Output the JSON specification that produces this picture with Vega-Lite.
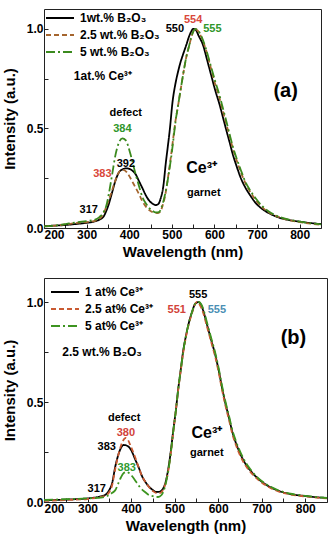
{
"$schema": "https://vega.github.io/schema/vega-lite/v6.json",
"padding": {"left": 1, "top": 8, "right": 5, "bottom": 5},
"background": "white",
"config": {
 "view": {"stroke": "#222", "strokeWidth": 1},
 "font": "Liberation Sans",
 "axis": {"grid": false, "domain": false, "labelFont": "Liberation Sans", "labelFontWeight": "bold", "labelFontSize": 12, "labelColor": "#000", "titleFont": "Liberation Sans", "titleFontWeight": "bold", "titleFontSize": 15, "titleColor": "#000", "tickColor": "#222", "tickSize": -4},
 "legend": {"title": null, "orient": "top-left", "padding": 0, "symbolType": "M-1,0H3", "symbolSize": 196, "symbolStrokeWidth": 2, "labelFont": "Liberation Sans", "labelFontWeight": "bold", "labelFontSize": 12, "labelColor": "#000", "rowPadding": 3, "labelOffset": 19}
},
"datasets": {
 "annA": [
  {"wl": 507, "int": 1.0, "label": "550", "series": "1wt.% B₂O₃", "role": "peak"},
  {"wl": 550, "int": 1.044, "label": "554", "series": "2.5 wt.% B₂O₃", "role": "peak"},
  {"wl": 595, "int": 1.0, "label": "555", "series": "5 wt.% B₂O₃", "role": "peak"},
  {"wl": 384, "int": 0.496, "label": "384", "series": "5 wt.% B₂O₃", "role": "peak"},
  {"wl": 392, "int": 0.32, "label": "392", "series": "1wt.% B₂O₃", "role": "peak"},
  {"wl": 337, "int": 0.27, "label": "383", "series": "2.5 wt.% B₂O₃", "role": "peak"},
  {"wl": 305, "int": 0.09, "label": "317", "series": "1wt.% B₂O₃", "role": "peak"},
  {"wl": 392, "int": 0.58, "label": "defect", "role": "note"},
  {"wl": 575, "int": 0.177, "label": "garnet", "role": "note"},
  {"wl": 570, "int": 0.303, "label": "Ce³⁺", "role": "ion"},
  {"wl": 767, "int": 0.69, "label": "(a)", "role": "tag"},
  {"wl": 270, "int": 0.764, "label": "1at.% Ce³⁺", "role": "comp"}
 ],
 "annB": [
  {"wl": 554, "int": 1.035, "label": "555", "series": "1 at% Ce³⁺", "role": "peak", "feature": "garnet"},
  {"wl": 505, "int": 0.96, "label": "551", "series": "2.5 at% Ce³⁺", "role": "peak", "feature": "garnet"},
  {"wl": 597, "int": 0.96, "label": "555", "series": "5 at% Ce³⁺", "role": "peak", "feature": "garnet"},
  {"wl": 388, "int": 0.345, "label": "380", "series": "2.5 at% Ce³⁺", "role": "peak", "feature": "defect"},
  {"wl": 344, "int": 0.275, "label": "383", "series": "1 at% Ce³⁺", "role": "peak", "feature": "defect"},
  {"wl": 390, "int": 0.17, "label": "383", "series": "5 at% Ce³⁺", "role": "peak", "feature": "defect"},
  {"wl": 321, "int": 0.065, "label": "317", "series": "1 at% Ce³⁺", "role": "peak", "feature": "defect"},
  {"wl": 384, "int": 0.42, "label": "defect", "role": "note"},
  {"wl": 574, "int": 0.245, "label": "garnet", "role": "note"},
  {"wl": 574, "int": 0.345, "label": "Ce³⁺", "role": "ion"},
  {"wl": 773, "int": 0.82, "label": "(b)", "role": "tag"},
  {"wl": 242, "int": 0.75, "label": "2.5 wt.% B₂O₃", "role": "comp"}
 ],
 "specA": [
  {"series":"1wt.% B₂O₃","wl":200,"int":0.010},{"series":"1wt.% B₂O₃","wl":225,"int":0.012},{"series":"1wt.% B₂O₃","wl":250,"int":0.015},{"series":"1wt.% B₂O₃","wl":275,"int":0.02},{"series":"1wt.% B₂O₃","wl":300,"int":0.026},{"series":"1wt.% B₂O₃","wl":317,"int":0.032},{"series":"1wt.% B₂O₃","wl":330,"int":0.042},{"series":"1wt.% B₂O₃","wl":340,"int":0.058},{"series":"1wt.% B₂O₃","wl":345,"int":0.08},{"series":"1wt.% B₂O₃","wl":352,"int":0.12},{"series":"1wt.% B₂O₃","wl":360,"int":0.18},{"series":"1wt.% B₂O₃","wl":368,"int":0.24},{"series":"1wt.% B₂O₃","wl":376,"int":0.28},{"series":"1wt.% B₂O₃","wl":385,"int":0.295},{"series":"1wt.% B₂O₃","wl":392,"int":0.30},{"series":"1wt.% B₂O₃","wl":400,"int":0.297},{"series":"1wt.% B₂O₃","wl":408,"int":0.287},{"series":"1wt.% B₂O₃","wl":415,"int":0.27},{"series":"1wt.% B₂O₃","wl":423,"int":0.235},{"series":"1wt.% B₂O₃","wl":431,"int":0.20},{"series":"1wt.% B₂O₃","wl":440,"int":0.16},{"series":"1wt.% B₂O₃","wl":446,"int":0.14},{"series":"1wt.% B₂O₃","wl":455,"int":0.122},{"series":"1wt.% B₂O₃","wl":462,"int":0.115},{"series":"1wt.% B₂O₃","wl":468,"int":0.12},{"series":"1wt.% B₂O₃","wl":474,"int":0.15},{"series":"1wt.% B₂O₃","wl":480,"int":0.21},{"series":"1wt.% B₂O₃","wl":486,"int":0.33},{"series":"1wt.% B₂O₃","wl":490,"int":0.40},{"series":"1wt.% B₂O₃","wl":495,"int":0.49},{"series":"1wt.% B₂O₃","wl":502,"int":0.64},{"series":"1wt.% B₂O₃","wl":508,"int":0.72},{"series":"1wt.% B₂O₃","wl":514,"int":0.78},{"series":"1wt.% B₂O₃","wl":520,"int":0.83},{"series":"1wt.% B₂O₃","wl":526,"int":0.87},{"series":"1wt.% B₂O₃","wl":534,"int":0.92},{"series":"1wt.% B₂O₃","wl":540,"int":0.96},{"series":"1wt.% B₂O₃","wl":545,"int":0.985},{"series":"1wt.% B₂O₃","wl":550,"int":1.0},{"series":"1wt.% B₂O₃","wl":556,"int":0.995},{"series":"1wt.% B₂O₃","wl":563,"int":0.965},{"series":"1wt.% B₂O₃","wl":573,"int":0.92},{"series":"1wt.% B₂O₃","wl":582,"int":0.85},{"series":"1wt.% B₂O₃","wl":592,"int":0.77},{"series":"1wt.% B₂O₃","wl":602,"int":0.69},{"series":"1wt.% B₂O₃","wl":612,"int":0.62},{"series":"1wt.% B₂O₃","wl":620,"int":0.555},{"series":"1wt.% B₂O₃","wl":628,"int":0.49},{"series":"1wt.% B₂O₃","wl":635,"int":0.435},{"series":"1wt.% B₂O₃","wl":643,"int":0.37},{"series":"1wt.% B₂O₃","wl":652,"int":0.31},{"series":"1wt.% B₂O₃","wl":662,"int":0.25},{"series":"1wt.% B₂O₃","wl":672,"int":0.205},{"series":"1wt.% B₂O₃","wl":682,"int":0.17},{"series":"1wt.% B₂O₃","wl":697,"int":0.125},{"series":"1wt.% B₂O₃","wl":713,"int":0.094},{"series":"1wt.% B₂O₃","wl":732,"int":0.07},{"series":"1wt.% B₂O₃","wl":752,"int":0.052},{"series":"1wt.% B₂O₃","wl":775,"int":0.04},{"series":"1wt.% B₂O₃","wl":800,"int":0.032},{"series":"1wt.% B₂O₃","wl":825,"int":0.025},{"series":"1wt.% B₂O₃","wl":850,"int":0.02},
  {"series":"2.5 wt.% B₂O₃","wl":200,"int":0.008},{"series":"2.5 wt.% B₂O₃","wl":225,"int":0.012},{"series":"2.5 wt.% B₂O₃","wl":250,"int":0.018},{"series":"2.5 wt.% B₂O₃","wl":275,"int":0.025},{"series":"2.5 wt.% B₂O₃","wl":300,"int":0.03},{"series":"2.5 wt.% B₂O₃","wl":317,"int":0.035},{"series":"2.5 wt.% B₂O₃","wl":330,"int":0.045},{"series":"2.5 wt.% B₂O₃","wl":338,"int":0.065},{"series":"2.5 wt.% B₂O₃","wl":345,"int":0.1},{"series":"2.5 wt.% B₂O₃","wl":352,"int":0.14},{"series":"2.5 wt.% B₂O₃","wl":360,"int":0.19},{"series":"2.5 wt.% B₂O₃","wl":366,"int":0.23},{"series":"2.5 wt.% B₂O₃","wl":372,"int":0.265},{"series":"2.5 wt.% B₂O₃","wl":380,"int":0.29},{"series":"2.5 wt.% B₂O₃","wl":386,"int":0.292},{"series":"2.5 wt.% B₂O₃","wl":395,"int":0.278},{"series":"2.5 wt.% B₂O₃","wl":403,"int":0.25},{"series":"2.5 wt.% B₂O₃","wl":413,"int":0.21},{"series":"2.5 wt.% B₂O₃","wl":423,"int":0.17},{"series":"2.5 wt.% B₂O₃","wl":432,"int":0.13},{"series":"2.5 wt.% B₂O₃","wl":442,"int":0.10},{"series":"2.5 wt.% B₂O₃","wl":450,"int":0.085},{"series":"2.5 wt.% B₂O₃","wl":458,"int":0.077},{"series":"2.5 wt.% B₂O₃","wl":466,"int":0.075},{"series":"2.5 wt.% B₂O₃","wl":472,"int":0.08},{"series":"2.5 wt.% B₂O₃","wl":478,"int":0.11},{"series":"2.5 wt.% B₂O₃","wl":484,"int":0.16},{"series":"2.5 wt.% B₂O₃","wl":490,"int":0.24},{"series":"2.5 wt.% B₂O₃","wl":496,"int":0.33},{"series":"2.5 wt.% B₂O₃","wl":502,"int":0.43},{"series":"2.5 wt.% B₂O₃","wl":508,"int":0.53},{"series":"2.5 wt.% B₂O₃","wl":515,"int":0.62},{"series":"2.5 wt.% B₂O₃","wl":521,"int":0.70},{"series":"2.5 wt.% B₂O₃","wl":528,"int":0.79},{"series":"2.5 wt.% B₂O₃","wl":534,"int":0.86},{"series":"2.5 wt.% B₂O₃","wl":540,"int":0.91},{"series":"2.5 wt.% B₂O₃","wl":546,"int":0.96},{"series":"2.5 wt.% B₂O₃","wl":550,"int":0.985},{"series":"2.5 wt.% B₂O₃","wl":554,"int":1.0},{"series":"2.5 wt.% B₂O₃","wl":560,"int":0.993},{"series":"2.5 wt.% B₂O₃","wl":570,"int":0.955},{"series":"2.5 wt.% B₂O₃","wl":580,"int":0.895},{"series":"2.5 wt.% B₂O₃","wl":592,"int":0.80},{"series":"2.5 wt.% B₂O₃","wl":602,"int":0.72},{"series":"2.5 wt.% B₂O₃","wl":612,"int":0.65},{"series":"2.5 wt.% B₂O₃","wl":620,"int":0.585},{"series":"2.5 wt.% B₂O₃","wl":628,"int":0.52},{"series":"2.5 wt.% B₂O₃","wl":635,"int":0.465},{"series":"2.5 wt.% B₂O₃","wl":643,"int":0.40},{"series":"2.5 wt.% B₂O₃","wl":652,"int":0.34},{"series":"2.5 wt.% B₂O₃","wl":662,"int":0.28},{"series":"2.5 wt.% B₂O₃","wl":672,"int":0.228},{"series":"2.5 wt.% B₂O₃","wl":682,"int":0.188},{"series":"2.5 wt.% B₂O₃","wl":697,"int":0.14},{"series":"2.5 wt.% B₂O₃","wl":713,"int":0.102},{"series":"2.5 wt.% B₂O₃","wl":732,"int":0.073},{"series":"2.5 wt.% B₂O₃","wl":752,"int":0.054},{"series":"2.5 wt.% B₂O₃","wl":775,"int":0.04},{"series":"2.5 wt.% B₂O₃","wl":800,"int":0.03},{"series":"2.5 wt.% B₂O₃","wl":825,"int":0.022},{"series":"2.5 wt.% B₂O₃","wl":850,"int":0.016},
  {"series":"5 wt.% B₂O₃","wl":200,"int":0.008},{"series":"5 wt.% B₂O₃","wl":225,"int":0.012},{"series":"5 wt.% B₂O₃","wl":250,"int":0.02},{"series":"5 wt.% B₂O₃","wl":275,"int":0.028},{"series":"5 wt.% B₂O₃","wl":300,"int":0.035},{"series":"5 wt.% B₂O₃","wl":317,"int":0.04},{"series":"5 wt.% B₂O₃","wl":330,"int":0.055},{"series":"5 wt.% B₂O₃","wl":340,"int":0.08},{"series":"5 wt.% B₂O₃","wl":346,"int":0.11},{"series":"5 wt.% B₂O₃","wl":352,"int":0.17},{"series":"5 wt.% B₂O₃","wl":360,"int":0.27},{"series":"5 wt.% B₂O₃","wl":368,"int":0.37},{"series":"5 wt.% B₂O₃","wl":376,"int":0.43},{"series":"5 wt.% B₂O₃","wl":384,"int":0.45},{"series":"5 wt.% B₂O₃","wl":392,"int":0.44},{"series":"5 wt.% B₂O₃","wl":403,"int":0.37},{"series":"5 wt.% B₂O₃","wl":409,"int":0.32},{"series":"5 wt.% B₂O₃","wl":415,"int":0.27},{"series":"5 wt.% B₂O₃","wl":423,"int":0.21},{"series":"5 wt.% B₂O₃","wl":431,"int":0.155},{"series":"5 wt.% B₂O₃","wl":440,"int":0.12},{"series":"5 wt.% B₂O₃","wl":447,"int":0.10},{"series":"5 wt.% B₂O₃","wl":454,"int":0.087},{"series":"5 wt.% B₂O₃","wl":462,"int":0.078},{"series":"5 wt.% B₂O₃","wl":470,"int":0.08},{"series":"5 wt.% B₂O₃","wl":476,"int":0.105},{"series":"5 wt.% B₂O₃","wl":482,"int":0.15},{"series":"5 wt.% B₂O₃","wl":488,"int":0.21},{"series":"5 wt.% B₂O₃","wl":494,"int":0.29},{"series":"5 wt.% B₂O₃","wl":500,"int":0.38},{"series":"5 wt.% B₂O₃","wl":505,"int":0.47},{"series":"5 wt.% B₂O₃","wl":509,"int":0.54},{"series":"5 wt.% B₂O₃","wl":515,"int":0.62},{"series":"5 wt.% B₂O₃","wl":521,"int":0.70},{"series":"5 wt.% B₂O₃","wl":528,"int":0.79},{"series":"5 wt.% B₂O₃","wl":534,"int":0.86},{"series":"5 wt.% B₂O₃","wl":540,"int":0.91},{"series":"5 wt.% B₂O₃","wl":545,"int":0.955},{"series":"5 wt.% B₂O₃","wl":550,"int":0.985},{"series":"5 wt.% B₂O₃","wl":555,"int":1.0},{"series":"5 wt.% B₂O₃","wl":562,"int":0.99},{"series":"5 wt.% B₂O₃","wl":570,"int":0.96},{"series":"5 wt.% B₂O₃","wl":580,"int":0.90},{"series":"5 wt.% B₂O₃","wl":592,"int":0.81},{"series":"5 wt.% B₂O₃","wl":602,"int":0.735},{"series":"5 wt.% B₂O₃","wl":612,"int":0.665},{"series":"5 wt.% B₂O₃","wl":620,"int":0.60},{"series":"5 wt.% B₂O₃","wl":628,"int":0.535},{"series":"5 wt.% B₂O₃","wl":635,"int":0.475},{"series":"5 wt.% B₂O₃","wl":643,"int":0.41},{"series":"5 wt.% B₂O₃","wl":652,"int":0.35},{"series":"5 wt.% B₂O₃","wl":662,"int":0.29},{"series":"5 wt.% B₂O₃","wl":672,"int":0.235},{"series":"5 wt.% B₂O₃","wl":682,"int":0.195},{"series":"5 wt.% B₂O₃","wl":697,"int":0.148},{"series":"5 wt.% B₂O₃","wl":713,"int":0.108},{"series":"5 wt.% B₂O₃","wl":732,"int":0.077},{"series":"5 wt.% B₂O₃","wl":752,"int":0.056},{"series":"5 wt.% B₂O₃","wl":775,"int":0.042},{"series":"5 wt.% B₂O₃","wl":800,"int":0.032},{"series":"5 wt.% B₂O₃","wl":825,"int":0.024},{"series":"5 wt.% B₂O₃","wl":850,"int":0.018}
 ],
 "specB": [
  {"series":"1 at% Ce³⁺","wl":200,"int":0.008},{"series":"1 at% Ce³⁺","wl":250,"int":0.012},{"series":"1 at% Ce³⁺","wl":300,"int":0.018},{"series":"1 at% Ce³⁺","wl":317,"int":0.022},{"series":"1 at% Ce³⁺","wl":330,"int":0.028},{"series":"1 at% Ce³⁺","wl":341,"int":0.036},{"series":"1 at% Ce³⁺","wl":350,"int":0.06},{"series":"1 at% Ce³⁺","wl":356,"int":0.09},{"series":"1 at% Ce³⁺","wl":364,"int":0.18},{"series":"1 at% Ce³⁺","wl":372,"int":0.245},{"series":"1 at% Ce³⁺","wl":383,"int":0.285},{"series":"1 at% Ce³⁺","wl":392,"int":0.28},{"series":"1 at% Ce³⁺","wl":400,"int":0.26},{"series":"1 at% Ce³⁺","wl":410,"int":0.21},{"series":"1 at% Ce³⁺","wl":418,"int":0.17},{"series":"1 at% Ce³⁺","wl":425,"int":0.13},{"series":"1 at% Ce³⁺","wl":433,"int":0.10},{"series":"1 at% Ce³⁺","wl":441,"int":0.077},{"series":"1 at% Ce³⁺","wl":450,"int":0.06},{"series":"1 at% Ce³⁺","wl":458,"int":0.05},{"series":"1 at% Ce³⁺","wl":466,"int":0.052},{"series":"1 at% Ce³⁺","wl":472,"int":0.062},{"series":"1 at% Ce³⁺","wl":478,"int":0.09},{"series":"1 at% Ce³⁺","wl":485,"int":0.16},{"series":"1 at% Ce³⁺","wl":491,"int":0.25},{"series":"1 at% Ce³⁺","wl":497,"int":0.36},{"series":"1 at% Ce³⁺","wl":503,"int":0.46},{"series":"1 at% Ce³⁺","wl":508,"int":0.56},{"series":"1 at% Ce³⁺","wl":514,"int":0.66},{"series":"1 at% Ce³⁺","wl":520,"int":0.76},{"series":"1 at% Ce³⁺","wl":526,"int":0.83},{"series":"1 at% Ce³⁺","wl":532,"int":0.89},{"series":"1 at% Ce³⁺","wl":540,"int":0.95},{"series":"1 at% Ce³⁺","wl":547,"int":0.99},{"series":"1 at% Ce³⁺","wl":555,"int":1.0},{"series":"1 at% Ce³⁺","wl":562,"int":0.98},{"series":"1 at% Ce³⁺","wl":568,"int":0.94},{"series":"1 at% Ce³⁺","wl":574,"int":0.89},{"series":"1 at% Ce³⁺","wl":584,"int":0.81},{"series":"1 at% Ce³⁺","wl":594,"int":0.73},{"series":"1 at% Ce³⁺","wl":602,"int":0.65},{"series":"1 at% Ce³⁺","wl":609,"int":0.57},{"series":"1 at% Ce³⁺","wl":617,"int":0.49},{"series":"1 at% Ce³⁺","wl":625,"int":0.42},{"series":"1 at% Ce³⁺","wl":632,"int":0.355},{"series":"1 at% Ce³⁺","wl":640,"int":0.30},{"series":"1 at% Ce³⁺","wl":651,"int":0.24},{"series":"1 at% Ce³⁺","wl":663,"int":0.19},{"series":"1 at% Ce³⁺","wl":677,"int":0.15},{"series":"1 at% Ce³⁺","wl":694,"int":0.112},{"series":"1 at% Ce³⁺","wl":715,"int":0.08},{"series":"1 at% Ce³⁺","wl":740,"int":0.055},{"series":"1 at% Ce³⁺","wl":770,"int":0.038},{"series":"1 at% Ce³⁺","wl":800,"int":0.03},{"series":"1 at% Ce³⁺","wl":825,"int":0.024},{"series":"1 at% Ce³⁺","wl":850,"int":0.02},
  {"series":"2.5 at% Ce³⁺","wl":200,"int":0.006},{"series":"2.5 at% Ce³⁺","wl":250,"int":0.01},{"series":"2.5 at% Ce³⁺","wl":300,"int":0.015},{"series":"2.5 at% Ce³⁺","wl":317,"int":0.02},{"series":"2.5 at% Ce³⁺","wl":330,"int":0.025},{"series":"2.5 at% Ce³⁺","wl":341,"int":0.032},{"series":"2.5 at% Ce³⁺","wl":350,"int":0.05},{"series":"2.5 at% Ce³⁺","wl":356,"int":0.08},{"series":"2.5 at% Ce³⁺","wl":364,"int":0.17},{"series":"2.5 at% Ce³⁺","wl":372,"int":0.245},{"series":"2.5 at% Ce³⁺","wl":380,"int":0.30},{"series":"2.5 at% Ce³⁺","wl":387,"int":0.32},{"series":"2.5 at% Ce³⁺","wl":393,"int":0.31},{"series":"2.5 at% Ce³⁺","wl":399,"int":0.28},{"series":"2.5 at% Ce³⁺","wl":410,"int":0.22},{"series":"2.5 at% Ce³⁺","wl":418,"int":0.17},{"series":"2.5 at% Ce³⁺","wl":425,"int":0.13},{"series":"2.5 at% Ce³⁺","wl":433,"int":0.10},{"series":"2.5 at% Ce³⁺","wl":441,"int":0.075},{"series":"2.5 at% Ce³⁺","wl":450,"int":0.055},{"series":"2.5 at% Ce³⁺","wl":458,"int":0.045},{"series":"2.5 at% Ce³⁺","wl":466,"int":0.045},{"series":"2.5 at% Ce³⁺","wl":472,"int":0.055},{"series":"2.5 at% Ce³⁺","wl":478,"int":0.085},{"series":"2.5 at% Ce³⁺","wl":485,"int":0.15},{"series":"2.5 at% Ce³⁺","wl":491,"int":0.24},{"series":"2.5 at% Ce³⁺","wl":497,"int":0.35},{"series":"2.5 at% Ce³⁺","wl":503,"int":0.46},{"series":"2.5 at% Ce³⁺","wl":508,"int":0.555},{"series":"2.5 at% Ce³⁺","wl":514,"int":0.655},{"series":"2.5 at% Ce³⁺","wl":520,"int":0.75},{"series":"2.5 at% Ce³⁺","wl":526,"int":0.825},{"series":"2.5 at% Ce³⁺","wl":532,"int":0.885},{"series":"2.5 at% Ce³⁺","wl":540,"int":0.945},{"series":"2.5 at% Ce³⁺","wl":546,"int":0.985},{"series":"2.5 at% Ce³⁺","wl":551,"int":1.0},{"series":"2.5 at% Ce³⁺","wl":558,"int":0.985},{"series":"2.5 at% Ce³⁺","wl":565,"int":0.95},{"series":"2.5 at% Ce³⁺","wl":574,"int":0.88},{"series":"2.5 at% Ce³⁺","wl":584,"int":0.80},{"series":"2.5 at% Ce³⁺","wl":594,"int":0.72},{"series":"2.5 at% Ce³⁺","wl":602,"int":0.64},{"series":"2.5 at% Ce³⁺","wl":609,"int":0.56},{"series":"2.5 at% Ce³⁺","wl":617,"int":0.48},{"series":"2.5 at% Ce³⁺","wl":625,"int":0.41},{"series":"2.5 at% Ce³⁺","wl":632,"int":0.345},{"series":"2.5 at% Ce³⁺","wl":640,"int":0.29},{"series":"2.5 at% Ce³⁺","wl":651,"int":0.23},{"series":"2.5 at% Ce³⁺","wl":663,"int":0.182},{"series":"2.5 at% Ce³⁺","wl":677,"int":0.143},{"series":"2.5 at% Ce³⁺","wl":694,"int":0.107},{"series":"2.5 at% Ce³⁺","wl":715,"int":0.076},{"series":"2.5 at% Ce³⁺","wl":740,"int":0.052},{"series":"2.5 at% Ce³⁺","wl":770,"int":0.036},{"series":"2.5 at% Ce³⁺","wl":800,"int":0.028},{"series":"2.5 at% Ce³⁺","wl":825,"int":0.022},{"series":"2.5 at% Ce³⁺","wl":850,"int":0.018},
  {"series":"5 at% Ce³⁺","wl":200,"int":0.01},{"series":"5 at% Ce³⁺","wl":250,"int":0.014},{"series":"5 at% Ce³⁺","wl":300,"int":0.018},{"series":"5 at% Ce³⁺","wl":317,"int":0.02},{"series":"5 at% Ce³⁺","wl":330,"int":0.022},{"series":"5 at% Ce³⁺","wl":345,"int":0.03},{"series":"5 at% Ce³⁺","wl":356,"int":0.045},{"series":"5 at% Ce³⁺","wl":364,"int":0.06},{"series":"5 at% Ce³⁺","wl":370,"int":0.09},{"series":"5 at% Ce³⁺","wl":376,"int":0.12},{"series":"5 at% Ce³⁺","wl":383,"int":0.145},{"series":"5 at% Ce³⁺","wl":390,"int":0.15},{"series":"5 at% Ce³⁺","wl":402,"int":0.13},{"series":"5 at% Ce³⁺","wl":412,"int":0.10},{"series":"5 at% Ce³⁺","wl":422,"int":0.07},{"series":"5 at% Ce³⁺","wl":432,"int":0.05},{"series":"5 at% Ce³⁺","wl":441,"int":0.035},{"series":"5 at% Ce³⁺","wl":452,"int":0.028},{"series":"5 at% Ce³⁺","wl":462,"int":0.025},{"series":"5 at% Ce³⁺","wl":470,"int":0.035},{"series":"5 at% Ce³⁺","wl":477,"int":0.07},{"series":"5 at% Ce³⁺","wl":485,"int":0.15},{"series":"5 at% Ce³⁺","wl":491,"int":0.24},{"series":"5 at% Ce³⁺","wl":497,"int":0.355},{"series":"5 at% Ce³⁺","wl":503,"int":0.46},{"series":"5 at% Ce³⁺","wl":508,"int":0.56},{"series":"5 at% Ce³⁺","wl":514,"int":0.66},{"series":"5 at% Ce³⁺","wl":520,"int":0.755},{"series":"5 at% Ce³⁺","wl":526,"int":0.83},{"series":"5 at% Ce³⁺","wl":532,"int":0.89},{"series":"5 at% Ce³⁺","wl":540,"int":0.95},{"series":"5 at% Ce³⁺","wl":547,"int":0.99},{"series":"5 at% Ce³⁺","wl":555,"int":1.0},{"series":"5 at% Ce³⁺","wl":562,"int":0.985},{"series":"5 at% Ce³⁺","wl":568,"int":0.95},{"series":"5 at% Ce³⁺","wl":574,"int":0.90},{"series":"5 at% Ce³⁺","wl":584,"int":0.82},{"series":"5 at% Ce³⁺","wl":594,"int":0.74},{"series":"5 at% Ce³⁺","wl":602,"int":0.66},{"series":"5 at% Ce³⁺","wl":609,"int":0.58},{"series":"5 at% Ce³⁺","wl":617,"int":0.50},{"series":"5 at% Ce³⁺","wl":625,"int":0.43},{"series":"5 at% Ce³⁺","wl":632,"int":0.365},{"series":"5 at% Ce³⁺","wl":640,"int":0.31},{"series":"5 at% Ce³⁺","wl":651,"int":0.25},{"series":"5 at% Ce³⁺","wl":663,"int":0.198},{"series":"5 at% Ce³⁺","wl":677,"int":0.155},{"series":"5 at% Ce³⁺","wl":694,"int":0.116},{"series":"5 at% Ce³⁺","wl":715,"int":0.083},{"series":"5 at% Ce³⁺","wl":740,"int":0.057},{"series":"5 at% Ce³⁺","wl":770,"int":0.04},{"series":"5 at% Ce³⁺","wl":800,"int":0.031},{"series":"5 at% Ce³⁺","wl":825,"int":0.025},{"series":"5 at% Ce³⁺","wl":850,"int":0.02}
 ]
},
"spacing": 17,
"resolve": {"scale": {"color": "independent", "strokeDash": "independent", "x": "independent", "y": "independent"}, "legend": {"color": "independent", "strokeDash": "independent"}},
"vconcat": [
 {
  "width": 277, "height": 219,
  "encoding": {
   "x": {"field": "wl", "type": "quantitative", "title": "Wavelength (nm)", "scale": {"domain": [200, 850], "nice": false, "zero": false}, "axis": {"values": [200,250,300,350,400,450,500,550,600,650,700,750,800,850], "labelExpr": "datum.value % 100 == 0 && datum.value < 850 ? datum.label : ''", "labelPadding": 5, "titlePadding": 4}},
   "y": {"field": "int", "type": "quantitative", "title": "Intensity (a.u.)", "scale": {"domain": [0, 1.1], "nice": false}, "axis": {"values": [0, 0.25, 0.5, 0.75, 1.0], "format": ".1f", "labelExpr": "datum.value == 0.25 || datum.value == 0.75 ? '' : datum.label", "labelPadding": 5, "titlePadding": 9}}
  },
  "layer": [
   {"data": {"name": "specA"}, "mark": {"type": "line", "strokeWidth": 1.8, "interpolate": "monotone"},
    "encoding": {
     "color": {"field": "series", "type": "nominal", "scale": {"domain": ["1wt.% B₂O₃", "2.5 wt.% B₂O₃", "5 wt.% B₂O₃"], "range": ["#000000", "#a5652e", "#3b8a1e"]}, "legend": {"offset": 1}},
     "strokeDash": {"field": "series", "type": "nominal", "scale": {"domain": ["1wt.% B₂O₃", "2.5 wt.% B₂O₃", "5 wt.% B₂O₃"], "range": [[1, 0], [5, 3], [9, 3, 2, 3]]}, "legend": {"offset": 1}}
    }},
   {"data": {"name": "annA"}, "transform": [{"filter": "datum.role == 'peak' && datum.series == '1wt.% B₂O₃'"}], "mark": {"type": "text", "font": "Liberation Sans", "fontWeight": "bold", "fontSize": 11, "color": "#000"}, "encoding": {"text": {"field": "label"}}},
   {"data": {"name": "annA"}, "transform": [{"filter": "datum.role == 'peak' && datum.series == '2.5 wt.% B₂O₃'"}], "mark": {"type": "text", "font": "Liberation Sans", "fontWeight": "bold", "fontSize": 11, "color": "#d9473a"}, "encoding": {"text": {"field": "label"}}},
   {"data": {"name": "annA"}, "transform": [{"filter": "datum.role == 'peak' && datum.series == '5 wt.% B₂O₃'"}], "mark": {"type": "text", "font": "Liberation Sans", "fontWeight": "bold", "fontSize": 11, "color": "#2f962a"}, "encoding": {"text": {"field": "label"}}},
   {"data": {"name": "annA"}, "transform": [{"filter": "datum.role == 'note'"}], "mark": {"type": "text", "font": "Liberation Sans", "fontWeight": "bold", "fontSize": 11, "color": "#000"}, "encoding": {"text": {"field": "label"}}},
   {"data": {"name": "annA"}, "transform": [{"filter": "datum.role == 'ion'"}], "mark": {"type": "text", "font": "Liberation Sans", "fontWeight": "bold", "fontSize": 16, "color": "#000"}, "encoding": {"text": {"field": "label"}}},
   {"data": {"name": "annA"}, "transform": [{"filter": "datum.role == 'tag'"}], "mark": {"type": "text", "font": "Liberation Sans", "fontWeight": "bold", "fontSize": 20, "color": "#000"}, "encoding": {"text": {"field": "label"}}},
   {"data": {"name": "annA"}, "transform": [{"filter": "datum.role == 'comp'"}], "mark": {"type": "text", "font": "Liberation Sans", "fontWeight": "bold", "fontSize": 12, "align": "left", "color": "#000"}, "encoding": {"text": {"field": "label"}}}
  ]
 },
 {
  "width": 283, "height": 224,
  "encoding": {
   "x": {"field": "wl", "type": "quantitative", "title": "Wavelength (nm)", "scale": {"domain": [200, 850], "nice": false, "zero": false}, "axis": {"values": [200,250,300,350,400,450,500,550,600,650,700,750,800,850], "labelExpr": "datum.value % 100 == 0 && datum.value < 850 ? datum.label : ''", "labelPadding": 5, "titlePadding": 4}},
   "y": {"field": "int", "type": "quantitative", "title": "Intensity (a.u.)", "scale": {"domain": [0, 1.12], "nice": false}, "axis": {"values": [0, 0.25, 0.5, 0.75, 1.0], "format": ".1f", "labelExpr": "datum.value == 0.25 || datum.value == 0.75 ? '' : datum.label", "labelPadding": 5, "titlePadding": 9}}
  },
  "layer": [
   {"data": {"name": "specB"}, "mark": {"type": "line", "strokeWidth": 1.8, "interpolate": "monotone"},
    "encoding": {
     "color": {"field": "series", "type": "nominal", "scale": {"domain": ["1 at% Ce³⁺", "2.5 at% Ce³⁺", "5 at% Ce³⁺"], "range": ["#000000", "#c95a32", "#3d9420"]}, "legend": {"offset": 6}},
     "strokeDash": {"field": "series", "type": "nominal", "scale": {"domain": ["1 at% Ce³⁺", "2.5 at% Ce³⁺", "5 at% Ce³⁺"], "range": [[1, 0], [5, 3], [9, 3, 2, 3]]}, "legend": {"offset": 6}}
    }},
   {"data": {"name": "annB"}, "transform": [{"filter": "datum.role == 'peak' && datum.series == '1 at% Ce³⁺'"}], "mark": {"type": "text", "font": "Liberation Sans", "fontWeight": "bold", "fontSize": 11, "color": "#000"}, "encoding": {"text": {"field": "label"}}},
   {"data": {"name": "annB"}, "transform": [{"filter": "datum.role == 'peak' && datum.series == '2.5 at% Ce³⁺'"}], "mark": {"type": "text", "font": "Liberation Sans", "fontWeight": "bold", "fontSize": 11, "color": "#d2433a"}, "encoding": {"text": {"field": "label"}}},
   {"data": {"name": "annB"}, "transform": [{"filter": "datum.role == 'peak' && datum.series == '5 at% Ce³⁺' && datum.feature == 'defect'"}], "mark": {"type": "text", "font": "Liberation Sans", "fontWeight": "bold", "fontSize": 11, "color": "#2f9a2f"}, "encoding": {"text": {"field": "label"}}},
   {"data": {"name": "annB"}, "transform": [{"filter": "datum.role == 'peak' && datum.series == '5 at% Ce³⁺' && datum.feature == 'garnet'"}], "mark": {"type": "text", "font": "Liberation Sans", "fontWeight": "bold", "fontSize": 11, "color": "#4b8fb4"}, "encoding": {"text": {"field": "label"}}},
   {"data": {"name": "annB"}, "transform": [{"filter": "datum.role == 'note'"}], "mark": {"type": "text", "font": "Liberation Sans", "fontWeight": "bold", "fontSize": 11, "color": "#000"}, "encoding": {"text": {"field": "label"}}},
   {"data": {"name": "annB"}, "transform": [{"filter": "datum.role == 'ion'"}], "mark": {"type": "text", "font": "Liberation Sans", "fontWeight": "bold", "fontSize": 16, "color": "#000"}, "encoding": {"text": {"field": "label"}}},
   {"data": {"name": "annB"}, "transform": [{"filter": "datum.role == 'tag'"}], "mark": {"type": "text", "font": "Liberation Sans", "fontWeight": "bold", "fontSize": 20, "color": "#000"}, "encoding": {"text": {"field": "label"}}},
   {"data": {"name": "annB"}, "transform": [{"filter": "datum.role == 'comp'"}], "mark": {"type": "text", "font": "Liberation Sans", "fontWeight": "bold", "fontSize": 12, "align": "left", "color": "#000"}, "encoding": {"text": {"field": "label"}}}
  ]
 }
]
}
